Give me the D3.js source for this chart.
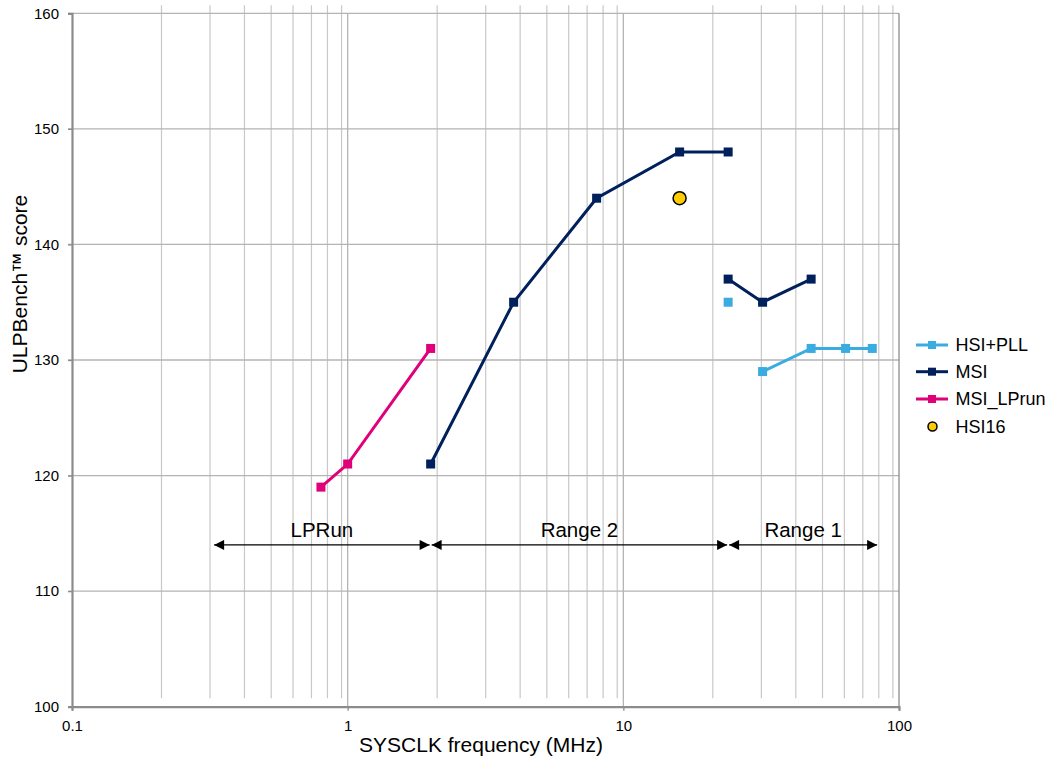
<!DOCTYPE html>
<html>
<head>
<meta charset="utf-8">
<script src="https://cdn.jsdelivr.net/npm/d3@7/dist/d3.min.js"></script>
<style>
  body { margin: 0; background: #fff; }
  svg text { font-family: "Liberation Sans", Arial, sans-serif; fill: #000; }
</style>
</head>
<body>
<svg id="chart" width="1057" height="760"></svg>
<script>
// SYSCLK frequency (MHz) vs ULPBench score
const hsiPllIsolatedX = [24];
const hsiPllIsolatedY = [135];
const hsiPllX = [32, 48, 64, 80];
const hsiPllY = [129, 131, 131, 131];

const msiX = [2, 4, 8, 16, 24];
const msiY = [121, 135, 144, 148, 148];
const msiRange1X = [24, 32, 48];
const msiRange1Y = [137, 135, 137];

const msiLprunX = [0.8, 1, 2];
const msiLprunY = [119, 121, 131];

const hsi16X = [16];
const hsi16Y = [144];

const rangeNames = ["LPRun", "Range 2", "Range 1"];
const rangeStart = [0.325, 2, 24];
const rangeEnd = [2, 24, 84];
const rangeLevel = 114;

const xTickValues = [0.1, 1, 10, 100];
const xTickLabels = ["0.1", "1", "10", "100"];
const yTickValues = [100, 110, 120, 130, 140, 150, 160];

const legendNames = ["HSI+PLL", "MSI", "MSI_LPrun", "HSI16"];
const colors = { hsiPll: "#3aace0", msi: "#00205b", lprun: "#e0007a", hsi16: "#ffcc00" };

const svg = d3.select("#chart");
const plotLeft = 72, plotRight = 899, plotTop = 13.3, plotBottom = 706.7;

const x = d3.scaleLog().domain([0.1, 100]).range([plotLeft, plotRight]);
const y = d3.scaleLinear().domain([100, 160]).range([plotBottom, plotTop]);

// minor vertical grid (drawn slightly offset and shorter, as in the original layout)
const minorVals = [];
[0.1, 1, 10].forEach(d => { for (let k = 2; k <= 9; k++) minorVals.push(d * k); });
const minorShift = 6.5;
svg.append("g").selectAll("line").data(minorVals).join("line")
  .attr("x1", d => x(d) + minorShift).attr("x2", d => x(d) + minorShift)
  .attr("y1", plotTop - 8).attr("y2", plotBottom - 8.5)
  .attr("stroke", "#c8c8c8").attr("stroke-width", 1.2);

// major vertical grid
svg.append("g").selectAll("line").data([1, 10]).join("line")
  .attr("x1", d => x(d)).attr("x2", d => x(d))
  .attr("y1", plotTop).attr("y2", plotBottom)
  .attr("stroke", "#b4b4b4").attr("stroke-width", 1.3);

// horizontal grid
svg.append("g").selectAll("line").data(yTickValues.slice(1)).join("line")
  .attr("x1", plotLeft - 4).attr("x2", plotRight)
  .attr("y1", d => y(d)).attr("y2", d => y(d))
  .attr("stroke", "#b4b4b4").attr("stroke-width", 1.3);

// right border
svg.append("line").attr("x1", plotRight).attr("x2", plotRight).attr("y1", plotTop).attr("y2", plotBottom)
  .attr("stroke", "#8c8c8c").attr("stroke-width", 1.3);

// axes
const yAxis = d3.axisLeft(y).tickValues(yTickValues).tickSize(4).tickPadding(9);
const gy = svg.append("g").attr("transform", `translate(${plotLeft},0)`).call(yAxis);
gy.select(".domain").attr("stroke", "#8c8c8c").attr("stroke-width", 2.2);
gy.selectAll(".tick line").attr("stroke", "#8c8c8c").attr("stroke-width", 1.3);
gy.selectAll("text").attr("font-size", 15).style("font-family", "Liberation Sans, Arial, sans-serif");

const xAxis = d3.axisBottom(x).tickValues(xTickValues).tickFormat((d, i) => xTickLabels[i]).tickSize(4).tickPadding(9.5);
const gx = svg.append("g").attr("transform", `translate(0,${plotBottom})`).call(xAxis);
gx.select(".domain").attr("stroke", "#8c8c8c").attr("stroke-width", 2.2);
gx.selectAll(".tick line").attr("stroke", "#8c8c8c").attr("stroke-width", 1.3);
gx.selectAll("text").attr("font-size", 15).style("font-family", "Liberation Sans, Arial, sans-serif");

// axis titles
svg.append("text").attr("x", 481).attr("y", 752).attr("text-anchor", "middle")
  .attr("font-size", 21).text("SYSCLK frequency (MHz)");
svg.append("text").attr("transform", "translate(27,284) rotate(-90)")
  .attr("text-anchor", "middle").attr("font-size", 21).text("ULPBench™ score");

// range arrows
const defs = svg.append("defs");
defs.append("marker").attr("id", "ahead").attr("viewBox", "0 0 10 10")
  .attr("refX", 10).attr("refY", 5).attr("markerWidth", 16).attr("markerHeight", 10)
  .attr("markerUnits", "userSpaceOnUse").attr("orient", "auto-start-reverse")
  .append("path").attr("d", "M0,0 L10,5 L0,10 Z").attr("fill", "#000");

const ranges = rangeNames.map((n, i) => ({ name: n, a: rangeStart[i], b: rangeEnd[i] }));
const gr = svg.append("g");
gr.selectAll("line").data(ranges).join("line")
  .attr("x1", d => x(d.a) + 1).attr("x2", d => x(d.b) - 1)
  .attr("y1", y(rangeLevel)).attr("y2", y(rangeLevel))
  .attr("stroke", "#000").attr("stroke-width", 1.3)
  .attr("marker-start", "url(#ahead)").attr("marker-end", "url(#ahead)");
gr.selectAll("text").data(ranges).join("text")
  .attr("x", d => (x(d.a) + x(d.b)) / 2).attr("y", y(rangeLevel) - 7.5)
  .attr("text-anchor", "middle").attr("font-size", 20.5).text(d => d.name);

// series
const zip = (xs, ys) => xs.map((v, i) => [v, ys[i]]);
const line = d3.line().x(d => x(d[0])).y(d => y(d[1]));

function drawSeries(pts, color, withLine) {
  const g = svg.append("g");
  if (withLine) {
    g.append("path").datum(pts).attr("d", line).attr("fill", "none")
      .attr("stroke", color).attr("stroke-width", 3);
  }
  g.selectAll("rect").data(pts).join("rect")
    .attr("x", d => x(d[0]) - 4.5).attr("y", d => y(d[1]) - 4.5)
    .attr("width", 9).attr("height", 9).attr("fill", color);
}

drawSeries(zip(hsiPllIsolatedX, hsiPllIsolatedY), colors.hsiPll, false);
drawSeries(zip(hsiPllX, hsiPllY), colors.hsiPll, true);
drawSeries(zip(msiX, msiY), colors.msi, true);
drawSeries(zip(msiRange1X, msiRange1Y), colors.msi, true);
drawSeries(zip(msiLprunX, msiLprunY), colors.lprun, true);

svg.append("g").selectAll("circle").data(zip(hsi16X, hsi16Y)).join("circle")
  .attr("cx", d => x(d[0])).attr("cy", d => y(d[1])).attr("r", 6.5)
  .attr("fill", colors.hsi16).attr("stroke", "#000").attr("stroke-width", 1.5);

// legend
const legendColors = [colors.hsiPll, colors.msi, colors.lprun, colors.hsi16];
const legendY = [345, 371.7, 399, 426.5];
const lg = svg.append("g");
legendNames.forEach((n, i) => {
  const cy = legendY[i];
  if (i < 3) {
    lg.append("line").attr("x1", 916).attr("x2", 948).attr("y1", cy).attr("y2", cy)
      .attr("stroke", legendColors[i]).attr("stroke-width", 3);
    lg.append("rect").attr("x", 928).attr("y", cy - 4).attr("width", 8).attr("height", 8)
      .attr("fill", legendColors[i]);
  } else {
    lg.append("circle").attr("cx", 932.5).attr("cy", cy).attr("r", 4.5)
      .attr("fill", legendColors[i]).attr("stroke", "#000").attr("stroke-width", 1.5);
  }
  lg.append("text").attr("x", 955.5).attr("y", cy + 6.3).attr("font-size", 18).text(n);
});
</script>
</body>
</html>
